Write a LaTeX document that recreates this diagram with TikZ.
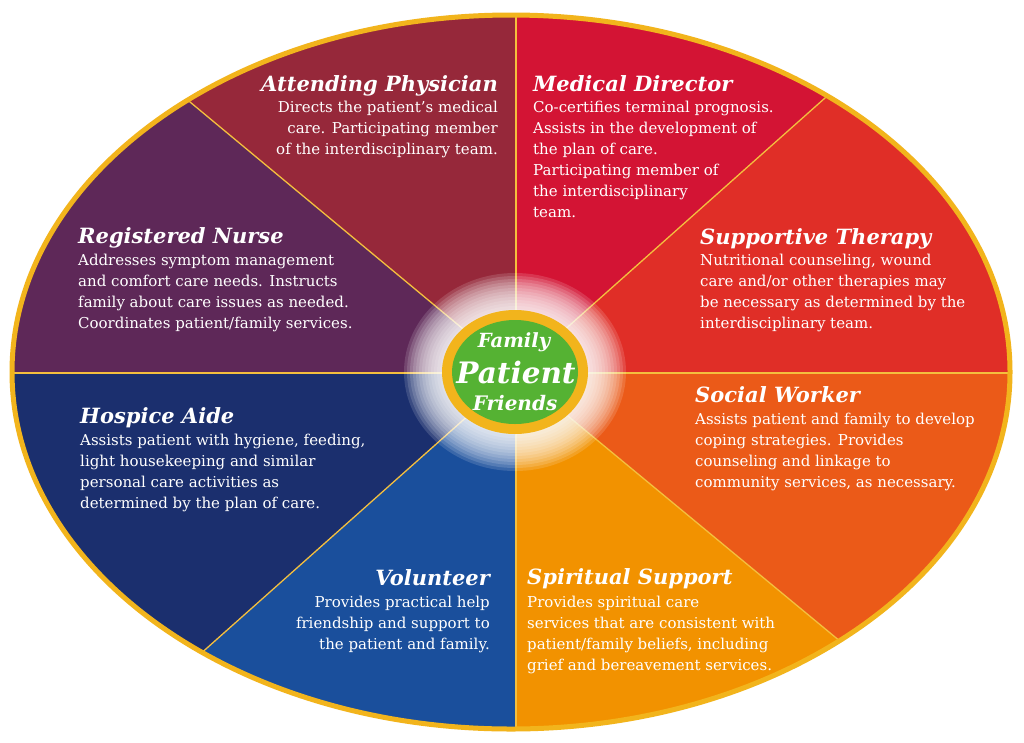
\documentclass[tikz,border=0pt]{standalone}
\usepackage{fontspec}
\setmainfont{DejaVu Serif}
\usetikzlibrary{calc}
\definecolor{hospMaroon}{RGB}{150,40,58}
\definecolor{hospCrimson}{RGB}{211,20,52}
\definecolor{hospRed}{RGB}{224,46,39}
\definecolor{hospOrange}{RGB}{235,90,24}
\definecolor{hospAmber}{RGB}{242,146,0}
\definecolor{hospBlue}{RGB}{26,79,156}
\definecolor{hospNavy}{RGB}{27,47,110}
\definecolor{hospPurple}{RGB}{94,40,88}
\definecolor{hospGold}{RGB}{242,180,28}
\definecolor{hospGreen}{RGB}{85,178,51}
\tikzset{
  rolehead/.style={text=white, inner sep=0pt, font=\fontsize{21}{24}\selectfont\bfseries\itshape},
  roletext/.style={text=white, inner sep=0pt, font=\fontsize{15}{21}\selectfont},
  divider/.style={draw=hospGold!85, line width=1.3pt},
  hubtext/.style={text=white, inner sep=0pt, anchor=base}
}

\begin{document}
\begin{tikzpicture}[x=1pt, y=-1pt]
\useasboundingbox (0,0) rectangle (1024,742);
\fill[white] (0,0) rectangle (1024,742);

% hub and rim points
\coordinate (C) at (516,373);
\coordinate (bT) at (516,14);
\coordinate (bUR) at (825,98);
\coordinate (bR) at (1010,373);
\coordinate (bLR) at (835,637);
\coordinate (bB) at (516,730);
\coordinate (bLL) at (207,648);
\coordinate (bL) at (12,373);
\coordinate (bUL) at (190,102);

% sectors
\begin{scope}
  \clip (511,372) ellipse (499 and 357);
  \fill[hospMaroon] (C) -- ($(C)!4!(bUL)$) -- ($(C)!4!(bT)$) -- cycle;
  \fill[hospCrimson] (C) -- ($(C)!4!(bT)$) -- ($(C)!4!(bUR)$) -- cycle;
  \fill[hospRed] (C) -- ($(C)!4!(bUR)$) -- ($(C)!4!(bR)$) -- cycle;
  \fill[hospOrange] (C) -- ($(C)!4!(bR)$) -- ($(C)!4!(bLR)$) -- cycle;
  \fill[hospAmber] (C) -- ($(C)!4!(bLR)$) -- ($(C)!4!(bB)$) -- cycle;
  \fill[hospBlue] (C) -- ($(C)!4!(bB)$) -- ($(C)!4!(bLL)$) -- cycle;
  \fill[hospNavy] (C) -- ($(C)!4!(bLL)$) -- ($(C)!4!(bL)$) -- cycle;
  \fill[hospPurple] (C) -- ($(C)!4!(bL)$) -- ($(C)!4!(bUL)$) -- cycle;
  \foreach \b in {bT,bUR,bR,bLR,bB,bLL,bL,bUL}
    \draw[divider] (C) -- ($(C)!1.1!(\b)$);
\end{scope}
\draw[hospGold, line width=5pt] (511,372) ellipse (499 and 357);

% glow and hub
\foreach \k in {1,...,13}
  \fill[white, opacity=0.14] (515,372) ellipse ({72+3*\k} and {60+3*\k});
\fill[hospGold] (515,372) ellipse (73 and 62);
\fill[hospGreen] (515,372) ellipse (63 and 52);
\node[hubtext, font=\fontsize{19.5}{22}\selectfont\bfseries\itshape] (family) at (514,347) {Family};
\node[hubtext, font=\fontsize{29.5}{32}\selectfont\bfseries\itshape] (patient) at (516,383) {Patient};
\node[hubtext, font=\fontsize{20}{22}\selectfont\bfseries\itshape] (friends) at (515,410) {Friends};

% roles (body nodes anchored at the baseline of their last line)
\node[rolehead, anchor=base east] (physHead) at (498,91) {Attending Physician};
\node[roletext, anchor=base east, align=right] (physText) at (498,154)
  {Directs the patient’s medical\\care. Participating member\\of the interdisciplinary team.};

\node[rolehead, anchor=base west] (dirHead) at (533,91) {Medical Director};
\node[roletext, anchor=base west, align=left] (dirText) at (533,217)
  {Co-certifies terminal prognosis.\\Assists in the development of\\the plan of care.\\Participating member of\\the interdisciplinary\\team.};

\node[rolehead, anchor=base west] (therHead) at (700,244) {Supportive Therapy};
\node[roletext, anchor=base west, align=left] (therText) at (700,328)
  {Nutritional counseling, wound\\care and/or other therapies may\\be necessary as determined by the\\interdisciplinary team.};

\node[rolehead, anchor=base west] (nurseHead) at (78,243) {Registered Nurse};
\node[roletext, anchor=base west, align=left] (nurseText) at (78,328)
  {Addresses symptom management\\and comfort care needs. Instructs\\family about care issues as needed.\\Coordinates patient/family services.};

\node[rolehead, anchor=base west] (aideHead) at (80,423) {Hospice Aide};
\node[roletext, anchor=base west, align=left] (aideText) at (80,508)
  {Assists patient with hygiene, feeding,\\light housekeeping and similar\\personal care activities as\\determined by the plan of care.};

\node[rolehead, anchor=base west] (socHead) at (695,402) {Social Worker};
\node[roletext, anchor=base west, align=left] (socText) at (695,487)
  {Assists patient and family to develop\\coping strategies. Provides\\counseling and linkage to\\community services, as necessary.};

\node[rolehead, anchor=base east] (volHead) at (490,585) {Volunteer};
\node[roletext, anchor=base east, align=right] (volText) at (490,649)
  {Provides practical help\\friendship and support to\\the patient and family.};

\node[rolehead, anchor=base west] (spirHead) at (527,584) {Spiritual Support};
\node[roletext, anchor=base west, align=left] (spirText) at (527,670)
  {Provides spiritual care\\services that are consistent with\\patient/family beliefs, including\\grief and bereavement services.};
\end{tikzpicture}
\end{document}
